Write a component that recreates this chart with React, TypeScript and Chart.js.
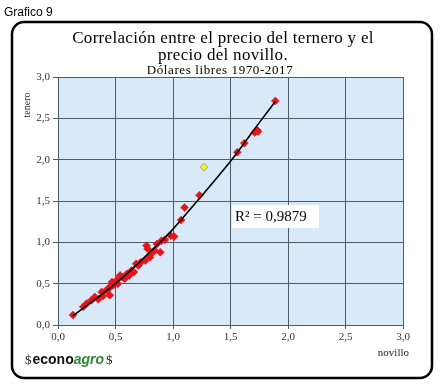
import React, { useEffect, useRef } from "react";
import { Chart, registerables } from "chart.js";

Chart.register(...registerables);

// Red points: novillo (x) vs ternero (y), dólares libres
const novillo = [
  0.13, 0.22, 0.25, 0.29, 0.32, 0.35, 0.38, 0.39, 0.42, 0.44, 0.45, 0.45,
  0.47, 0.48, 0.51, 0.52, 0.54, 0.56, 0.58, 0.60, 0.62, 0.64, 0.66, 0.68,
  0.70, 0.72, 0.76, 0.77, 0.78, 0.80, 0.81, 0.84, 0.86, 0.89, 0.90, 0.93,
  0.98, 1.01, 1.07, 1.10, 1.23, 1.56, 1.62, 1.71, 1.73, 1.74, 1.89,
];
const ternero = [
  0.12, 0.22, 0.26, 0.30, 0.34, 0.31, 0.40, 0.35, 0.42, 0.44, 0.36, 0.46,
  0.52, 0.48, 0.54, 0.50, 0.60, 0.58, 0.56, 0.62, 0.60, 0.66, 0.64, 0.74,
  0.72, 0.76, 0.78, 0.96, 0.92, 0.82, 0.86, 0.90, 0.98, 0.88, 1.02, 1.03,
  1.08, 1.07, 1.27, 1.42, 1.57, 2.09, 2.20, 2.33, 2.36, 2.34, 2.71,
];
// Highlighted (yellow) point
const highlightX = [1.27];
const highlightY = [1.91];
// Trend line
const trendX = [0.13, 0.5, 0.887, 1.0, 1.18, 1.5, 1.757, 1.887];
const trendY = [0.11, 0.5, 1.0, 1.16, 1.45, 1.98, 2.46, 2.7];

const yTicks = [0, 0.5, 1, 1.5, 2, 2.5, 3];
const xTicks = [0, 0.5, 1, 1.5, 2, 2.5, 3];

const titleLines = ["Correlación entre el precio del ternero y el", "precio del novillo."];
const subtitle = "Dólares libres 1970-2017";
const r2Text = "R² = 0,9879";
const yTitle = "tenero";
const xTitle = "novillo";

const SERIF = "'Liberation Serif', 'DejaVu Serif', serif";
const SANS = "'Liberation Sans', Arial, sans-serif";

const fmt = (v: number) => v.toFixed(1).replace(".", ",");

const decorPlugin = {
  id: "decor",
  beforeDraw(chart: any) {
    const { ctx, chartArea } = chart;
    ctx.save();
    ctx.fillStyle = "#ffffff";
    ctx.fillRect(0, 0, chart.width, chart.height);
    // rounded frame
    ctx.lineWidth = 2.5;
    ctx.strokeStyle = "#000";
    const x0 = 12, y0 = 22, w = 420, h = 356, r = 12;
    ctx.beginPath();
    ctx.moveTo(x0 + r, y0);
    ctx.arcTo(x0 + w, y0, x0 + w, y0 + h, r);
    ctx.arcTo(x0 + w, y0 + h, x0, y0 + h, r);
    ctx.arcTo(x0, y0 + h, x0, y0, r);
    ctx.arcTo(x0, y0, x0 + w, y0, r);
    ctx.closePath();
    ctx.stroke();
    // plot background
    ctx.fillStyle = "#dae9f7";
    ctx.fillRect(chartArea.left, chartArea.top, chartArea.right - chartArea.left, chartArea.bottom - chartArea.top);
    // "Grafico 9"
    ctx.fillStyle = "#000";
    ctx.font = `12px ${SANS}`;
    ctx.textBaseline = "alphabetic";
    ctx.textAlign = "left";
    ctx.fillText("Grafico 9", 4, 16);
    // titles
    ctx.textAlign = "center";
    ctx.font = `17px ${SERIF}`;
    (ctx as any).letterSpacing = "0.3px";
    ctx.fillText(titleLines[0], 223, 43);
    ctx.fillText(titleLines[1], 223, 60);
    ctx.font = `13px ${SERIF}`;
    (ctx as any).letterSpacing = "0.6px";
    ctx.fillText(subtitle, 220, 74);
    (ctx as any).letterSpacing = "0px";
    ctx.restore();
  },
  afterDraw(chart: any) {
    const { ctx, chartArea } = chart;
    ctx.save();
    // axis titles
    ctx.fillStyle = "#222";
    ctx.font = `10px ${SERIF}`;
    ctx.save();
    ctx.translate(27, 105);
    ctx.rotate(-Math.PI / 2);
    ctx.textAlign = "center";
    ctx.textBaseline = "middle";
    ctx.fillText(yTitle, 0, 0);
    ctx.restore();
    ctx.textAlign = "right";
    ctx.textBaseline = "alphabetic";
    ctx.font = `11px ${SERIF}`;
    ctx.fillText(xTitle, 409, 356);
    // R² box
    const bx = chartArea.left + 174, by = chartArea.top + 128;
    ctx.fillStyle = "#ffffff";
    ctx.fillRect(bx, by, 87, 23);
    ctx.fillStyle = "#000";
    ctx.font = `15px ${SERIF}`;
    ctx.textAlign = "left";
    ctx.textBaseline = "middle";
    ctx.fillText(r2Text, bx + 3, by + 12);
    // logo
    ctx.textBaseline = "alphabetic";
    let lx = 25;
    const ly = 364;
    ctx.font = `13px ${SERIF}`;
    ctx.fillStyle = "#222";
    ctx.fillText("$", lx, ly);
    lx += ctx.measureText("$").width + 1;
    ctx.font = `bold 14px ${SANS}`;
    ctx.fillStyle = "#111";
    ctx.fillText("econo", lx, ly);
    lx += ctx.measureText("econo").width;
    ctx.font = `italic bold 14px ${SANS}`;
    ctx.fillStyle = "#2f8a3a";
    ctx.fillText("agro", lx, ly);
    lx += ctx.measureText("agro").width + 2;
    ctx.font = `13px ${SERIF}`;
    ctx.fillStyle = "#222";
    ctx.fillText("$", lx, ly);
    ctx.restore();
  },
};

export default function App() {
  const ref = useRef<HTMLCanvasElement>(null);
  useEffect(() => {
    if (!ref.current) return;
    const redData = novillo.map((x, i) => ({ x, y: ternero[i] }));
    const yellowData = highlightX.map((x, i) => ({ x, y: highlightY[i] }));
    const trendData = trendX.map((x, i) => ({ x, y: trendY[i] }));
    const chart = new Chart(ref.current, {
      type: "scatter",
      data: {
        datasets: [
          {
            label: "tendencia",
            data: trendData,
            showLine: true,
            borderColor: "#000",
            borderWidth: 1.6,
            pointRadius: 0,
            cubicInterpolationMode: "monotone",
          } as any,
          {
            label: "1970-2017",
            data: redData,
            pointStyle: "rectRot",
            pointRadius: 4,
            backgroundColor: "#e8141b",
            borderColor: "#e8141b",
            borderWidth: 0.5,
          },
          {
            label: "destacado",
            data: yellowData,
            pointStyle: "rectRot",
            pointRadius: 3.8,
            backgroundColor: "#f2f23a",
            borderColor: "#9a9a20",
            borderWidth: 0.8,
          },
        ],
      },
      options: {
        animation: false,
        responsive: false,
        maintainAspectRatio: false,
        events: [],
        layout: { padding: { left: 0, right: 37, top: 77, bottom: 39 } },
        plugins: { legend: { display: false }, tooltip: { enabled: false }, title: { display: false } },
        scales: {
          x: {
            type: "linear",
            min: 0,
            max: 3,
            afterBuildTicks: (axis: any) => {
              axis.ticks = xTicks.map((v) => ({ value: v }));
            },
            afterFit: (axis: any) => {
              axis.height = 20;
            },
            ticks: {
              callback: (v: any) => fmt(Number(v)),
              font: { family: SERIF, size: 11 },
              color: "#333",
              padding: 2,
              maxRotation: 0,
            },
            grid: { color: "#4f5c68", lineWidth: 1, tickLength: 4, drawTicks: true },
            border: { color: "#4f5c68", width: 1 },
          },
          y: {
            type: "linear",
            min: 0,
            max: 3,
            afterBuildTicks: (axis: any) => {
              axis.ticks = yTicks.map((v) => ({ value: v }));
            },
            afterFit: (axis: any) => {
              axis.width = 58;
            },
            ticks: {
              callback: (v: any) => fmt(Number(v)),
              font: { family: SERIF, size: 11 },
              color: "#333",
              padding: 3,
            },
            grid: { color: "#4f5c68", lineWidth: 1, tickLength: 5, drawTicks: true },
            border: { color: "#4f5c68", width: 1 },
          },
        },
      },
      plugins: [decorPlugin],
    });
    return () => chart.destroy();
  }, []);
  return (
    <div style={{ position: "fixed", left: 0, top: 0, width: 440, height: 384, background: "#fff" }}>
      <canvas ref={ref} width={440} height={384} style={{ width: 440, height: 384, display: "block" }} />
    </div>
  );
}
